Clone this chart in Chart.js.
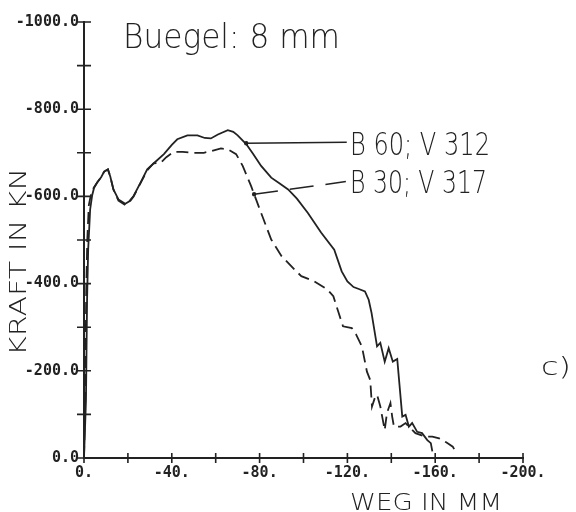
<!DOCTYPE html>
<html>
<head>
<meta charset="utf-8">
<script src="https://cdn.jsdelivr.net/npm/chart.js@4.4.0/dist/chart.umd.min.js"></script>
<style>
body { margin: 0; background: #fff; }
#wrap { width: 576px; height: 512px; }
</style>
</head>
<body>
<div id="wrap"><canvas id="chart" width="576" height="512"></canvas></div>
<script>
// Weg (mm) / Kraft (kN)
var wegB60 = [0, -0.9, -1.4, -1.9, -2.8, -3.7, -4.6, -6, -7.8, -9.2, -10.9, -12, -13.4, -15.7, -18.8, -20.5, -22.6, -25.7, -28.8, -31.8,
  -36.4, -40, -42.5, -47.1, -51.7, -55, -57.8, -61, -65.5, -68, -70, -73.9, -77, -80.7, -85.3, -89, -93, -97, -102, -108,
  -114, -117.4, -120, -122.8, -125.5, -128, -129.7, -131, -133.5, -135, -137, -138.8, -140.7, -142.7, -145, -146.5, -148, -149.5,
  -151.8, -154, -156.4, -158, -158.7];
var kraftB60 = [0, -133, -363, -478, -570, -602, -620, -632, -644, -657, -662, -645, -616, -593, -583, -588, -601, -631, -662, -676,
  -697, -718, -731, -740, -740, -734, -733, -742, -752, -748, -740, -720, -698, -670, -643, -630, -616, -595, -562, -517,
  -478, -428, -405, -392, -387, -382, -363, -333, -256, -264, -221, -252, -221, -227, -95, -99, -72, -80,
  -60, -57, -41, -34, -15];

var wegB30 = [0, -0.6, -1, -1.5, -2.2, -3, -4.2, -6, -7.8, -9.2, -10.9, -12, -13.4, -15.7, -18.8, -20.5, -22.6, -25.7, -28.8, -31.7,
  -34.9, -37.5, -40.8, -45, -50, -54.6, -58, -62.4, -65.5, -69.3, -72.3, -76.1, -80.7, -85.3, -90, -96, -99, -105, -111, -113.6,
  -116, -118, -122, -124, -126.6, -128.9, -130.4, -131.2, -132.7, -133.5, -135, -137, -138, -139.6, -140.4, -141.2, -144.2, -146.5,
  -151, -155.6, -158.7, -161.8, -165, -168, -169];
var kraftB30 = [0, -150, -380, -500, -580, -600, -618, -632, -644, -657, -662, -645, -616, -590, -580, -586, -600, -630, -660, -676,
  -677, -690, -702, -702, -700, -700, -704, -710, -708, -697, -670, -624, -562, -501, -463, -432, -417, -405, -386, -371,
  -333, -302, -298, -283, -256, -198, -179, -118, -141, -145, -118, -64, -103, -126, -95, -72, -72, -80,
  -57, -49, -49, -45, -36, -26, -17];

var seriesNames = ['B 60; V 312', 'B 30; V 317'];
var titleText = 'Buegel: 8 mm';
var xTitle = 'WEG IN MM';
var yTitle = 'KRAFT IN KN';
var panelTag = 'c)';

var ink = '#222';

function pts(xs, ys) {
  return xs.map(function (x, i) { return { x: x, y: ys[i] }; });
}

// draw text squeezed/stretched to a given width (plotter lettering)
function fitText(ctx, text, x, y, width, font) {
  ctx.save();
  ctx.font = font;
  ctx.textAlign = 'left';
  ctx.textBaseline = 'alphabetic';
  var w = ctx.measureText(text).width;
  ctx.translate(x, y);
  ctx.scale(width / w, 1);
  ctx.fillText(text, 0, 0);
  ctx.restore();
}

var sheet = {
  id: 'sheet',
  afterDraw: function (chart) {
    var ctx = chart.ctx, xs = chart.scales.x, ys = chart.scales.y;
    var x0 = xs.getPixelForValue(0), y0 = ys.getPixelForValue(0);
    ctx.save();
    ctx.strokeStyle = ink;
    ctx.fillStyle = ink;
    ctx.lineWidth = 1.6;

    // tick crosses
    ctx.beginPath();
    for (var v = 0; v >= -1000; v -= 100) {
      var py = ys.getPixelForValue(v);
      ctx.moveTo(x0 - 7, py); ctx.lineTo(x0 + 7, py);
    }
    for (var u = 0; u >= -200; u -= 20) {
      var px = xs.getPixelForValue(u);
      ctx.moveTo(px, y0 - 5); ctx.lineTo(px, y0 + 5);
    }
    ctx.stroke();

    // leader lines to the curve labels
    ctx.lineWidth = 1.5;
    ctx.beginPath();
    ctx.moveTo(xs.getPixelForValue(-73.9), ys.getPixelForValue(-722));
    ctx.lineTo(xs.getPixelForValue(-119.7), ys.getPixelForValue(-724));
    ctx.stroke();
    ctx.setLineDash([24, 12]);
    ctx.beginPath();
    ctx.moveTo(xs.getPixelForValue(-77.5), ys.getPixelForValue(-605));
    ctx.lineTo(xs.getPixelForValue(-119.3), ys.getPixelForValue(-634));
    ctx.stroke();
    ctx.setLineDash([]);
    ctx.beginPath();
    ctx.arc(xs.getPixelForValue(-73.9), ys.getPixelForValue(-722), 2.2, 0, Math.PI * 2);
    ctx.arc(xs.getPixelForValue(-77.5), ys.getPixelForValue(-605), 2.2, 0, Math.PI * 2);
    ctx.fill();

    var light = '300 32px "DejaVu Sans"';
    fitText(ctx, titleText, 123, 48, 217, '300 34px "DejaVu Sans"');
    fitText(ctx, seriesNames[0], 350, 155, 140, light);
    fitText(ctx, seriesNames[1], 350, 193, 137, light);
    fitText(ctx, xTitle, 350, 510, 152, '300 23px "DejaVu Sans"');
    fitText(ctx, panelTag, 541, 375, 30, '300 25px "DejaVu Sans"');

    ctx.save();
    ctx.translate(26, 356);
    ctx.rotate(-Math.PI / 2);
    fitText(ctx, yTitle, 0, 0, 188, '300 23px "DejaVu Sans"');
    ctx.restore();
    ctx.restore();
  }
};

var tickFont = { family: '"DejaVu Sans Mono", monospace', size: 15, weight: 'bold' };

new Chart(document.getElementById('chart'), {
  type: 'scatter',
  data: {
    datasets: [
      {
        label: seriesNames[0],
        data: pts(wegB60, kraftB60),
        showLine: true,
        borderColor: ink,
        borderWidth: 1.8,
        pointRadius: 0,
        tension: 0
      },
      {
        label: seriesNames[1],
        data: pts(wegB30, kraftB30),
        showLine: true,
        borderColor: ink,
        borderWidth: 1.8,
        borderDash: [12, 6],
        pointRadius: 0,
        tension: 0
      }
    ]
  },
  options: {
    responsive: false,
    animation: false,
    layout: { padding: { top: 22, right: 53, left: 0, bottom: 0 } },
    plugins: { legend: { display: false }, tooltip: { enabled: false } },
    scales: {
      x: {
        type: 'linear',
        min: -200,
        max: 0,
        reverse: true,
        grid: { display: false, drawTicks: false },
        border: { display: true, color: ink, width: 2 },
        ticks: {
          stepSize: 20,
          autoSkip: false,
          maxRotation: 0,
          padding: 6,
          color: ink,
          font: tickFont,
          callback: function (v) { return v % 40 === 0 ? v + '.' : ''; }
        },
        afterFit: function (s) { s.height = 54; }
      },
      y: {
        type: 'linear',
        min: -1000,
        max: 0,
        reverse: true,
        grid: { display: false, drawTicks: false },
        border: { display: true, color: ink, width: 2 },
        ticks: {
          stepSize: 100,
          autoSkip: false,
          padding: 5,
          color: ink,
          font: tickFont,
          callback: function (v) { return v % 200 === 0 ? v.toFixed(1) : ''; }
        },
        afterFit: function (s) { s.width = 84; }
      }
    }
  },
  plugins: [sheet]
});
</script>
</body>
</html>
